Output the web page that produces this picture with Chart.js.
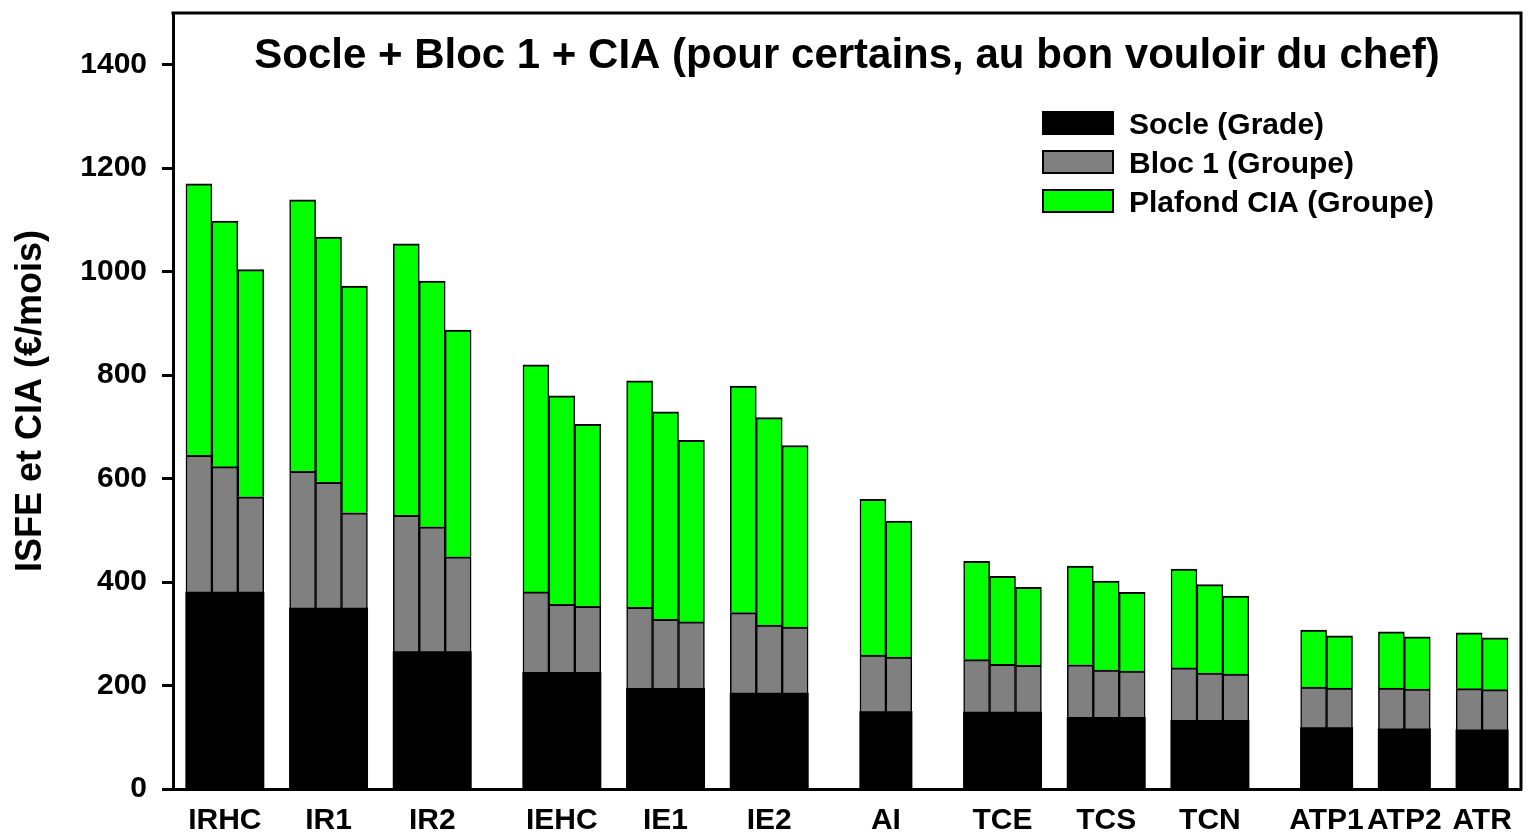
<!DOCTYPE html>
<html>
<head>
<meta charset="utf-8">
<script src="https://cdn.jsdelivr.net/npm/chart.js@4"></script>
<style>
  body { margin: 0; background: #fff; }
  #wrap { width: 1528px; height: 835px; }
</style>
</head>
<body>
<div id="wrap"><canvas id="myChart"></canvas></div>
<script>
// grades, grouped by family (a wider gap between families)
const grades = ['IRHC', 'IR1', 'IR2', 'IEHC', 'IE1', 'IE2', 'AI', 'TCE', 'TCS', 'TCN', 'ATP1', 'ATP2', 'ATR'];
const family = ['IR', 'IR', 'IR', 'IE', 'IE', 'IE', 'AI', 'TC', 'TC', 'TC', 'AT', 'AT', 'AT'];
const barsPerGrade = [3, 3, 3, 3, 3, 3, 2, 3, 3, 3, 2, 2, 2];

// one value per bar (groupes of each grade), €/mois
const socle = [380, 380, 380, 349, 349, 349, 265, 265, 265,
               225, 225, 225, 194, 194, 194, 185, 185, 185,
               149, 149,
               148, 148, 148, 138, 138, 138, 132, 132, 132,
               118, 118, 116, 116, 114, 114];
const bloc1 = [265, 243, 185, 265, 244, 185, 264, 242, 184,
               156, 132, 128, 157, 134, 129, 156, 132, 128,
               110, 106,
               102, 93, 91, 102, 92, 90, 102, 92, 90,
               79, 77, 79, 77, 80, 78];
const cia = [525, 475, 439, 525, 474, 438, 525, 475, 438,
             439, 403, 352, 438, 401, 351, 438, 401, 351,
             301, 263,
             190, 170, 151, 191, 172, 152, 191, 171, 151,
             110, 101, 109, 101, 108, 100];

const yTicks = [0, 200, 400, 600, 800, 1000, 1200, 1400];
const seriesNames = ['Socle (Grade)', 'Bloc 1 (Groupe)', 'Plafond CIA (Groupe)'];
const seriesColors = ['#000000', '#808080', '#00ff00'];
const chartTitle = 'Socle + Bloc 1 + CIA (pour certains, au bon vouloir du chef)';
const yTitle = 'ISFE et CIA (€/mois)';

const FONT = '"Liberation Sans", Arial, sans-serif';
Chart.defaults.font.family = FONT;
Chart.defaults.font.weight = 'bold';
Chart.defaults.color = '#000';

// slot index of every bar + centre of each grade for its label
const xs = [];
const labelPos = [];
let slot = 0;
grades.forEach((g, i) => {
  if (i > 0) slot += family[i] === family[i - 1] ? 1 : 2;
  const start = slot;
  for (let k = 0; k < barsPerGrade[i]; k++) xs.push(slot++);
  labelPos.push((start + slot - 1) / 2);
});

function series(values, idx) {
  const solid = idx === 0;
  return {
    label: seriesNames[idx],
    data: values.map((v, i) => ({ x: xs[i], y: v })),
    backgroundColor: seriesColors[idx],
    borderColor: '#000',
    borderWidth: solid ? 0 : { top: 2, left: 1.5, right: 1.5, bottom: 0 },
    borderSkipped: 'start',
    inflateAmount: solid ? 0.6 : 'auto',
    barPercentage: 1,
    categoryPercentage: 1
  };
}

const decor = {
  id: 'decor',
  afterDraw(chart) {
    const ctx = chart.ctx;
    const a = chart.chartArea;
    ctx.save();
    // frame top + right
    ctx.strokeStyle = '#000';
    ctx.lineWidth = 3;
    ctx.beginPath();
    ctx.moveTo(a.left - 1.5, a.top);
    ctx.lineTo(a.right, a.top);
    ctx.lineTo(a.right, a.bottom + 1.5);
    ctx.stroke();

    // title inside the plot
    ctx.fillStyle = '#000';
    ctx.font = 'bold 42px ' + FONT;
    ctx.textAlign = 'center';
    ctx.textBaseline = 'alphabetic';
    ctx.fillText(chartTitle, (a.left + a.right) / 2, a.top + 55);

    // legend
    const bx = a.right - 478;
    ctx.font = 'bold 30px ' + FONT;
    ctx.textAlign = 'left';
    seriesNames.forEach((name, i) => {
      const base = a.top + 121 + i * 39;
      ctx.fillStyle = seriesColors[i];
      ctx.fillRect(bx, base - 22, 70, 22);
      ctx.lineWidth = 2;
      ctx.strokeStyle = '#000';
      ctx.strokeRect(bx, base - 22, 70, 22);
      ctx.fillStyle = '#000';
      ctx.fillText(name, bx + 86, base);
    });
    ctx.restore();
  }
};

new Chart(document.getElementById('myChart'), {
  type: 'bar',
  plugins: [decor],
  data: {
    datasets: [series(socle, 0), series(bloc1, 1), series(cia, 2)]
  },
  options: {
    responsive: true,
    maintainAspectRatio: false,
    animation: false,
    layout: { padding: { top: 13, right: 7, left: 0, bottom: 0 } },
    plugins: {
      legend: { display: false },
      title: { display: false },
      tooltip: { enabled: false }
    },
    scales: {
      x: {
        type: 'linear',
        min: -1,
        max: 51,
        offset: false,
        stacked: true,
        grid: { display: false, drawTicks: false, offset: false },
        border: { display: true, width: 3, color: '#000' },
        ticks: {
          autoSkip: false,
          maxRotation: 0,
          padding: 14,
          color: '#000',
          font: { size: 30, weight: 'bold' },
          callback: (v, i) => grades[i]
        },
        afterBuildTicks: s => { s.ticks = labelPos.map(v => ({ value: v })); },
        afterFit: s => { s.height = 46; s.paddingLeft = 0; s.paddingRight = 0; }
      },
      y: {
        stacked: true,
        min: 0,
        max: 1500,
        grid: { drawOnChartArea: false, drawTicks: true, tickLength: 11, tickWidth: 3, tickColor: '#000' },
        border: { display: true, width: 3, color: '#000' },
        ticks: {
          padding: 15,
          color: '#000',
          font: { size: 30, weight: 'bold' },
          callback: v => String(v)
        },
        afterBuildTicks: s => { s.ticks = yTicks.map(v => ({ value: v })); },
        title: {
          display: true,
          text: yTitle,
          color: '#000',
          font: { size: 36, weight: 'bold' },
          padding: { top: 9, bottom: 0 }
        },
        afterFit: s => { s.width = 173; s.paddingTop = 0; s.paddingBottom = 0; }
      }
    }
  }
});
</script>
</body>
</html>
